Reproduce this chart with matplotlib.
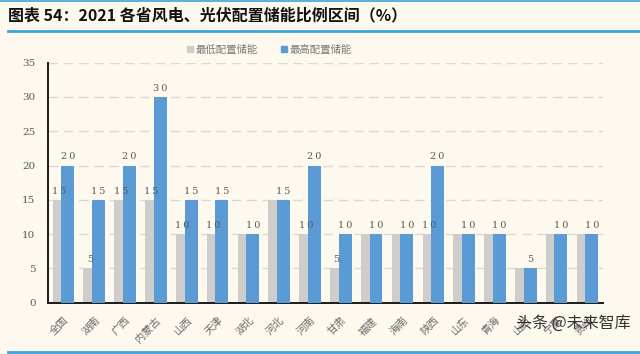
import matplotlib
matplotlib.use('Agg')
import matplotlib.pyplot as plt
from matplotlib.lines import Line2D
import numpy as np

plt.rcParams['font.family'] = ['Noto Sans CJK SC', 'DejaVu Sans']

# DATA
provinces = ['全国', '湖南', '广西', '内蒙古', '山西', '天津', '湖北', '河北', '河南',
             '甘肃', '福建', '海南', '陕西', '山东', '青海', '山西', '宁夏', '贵州']
low_storage = [15, 5, 15, 15, 10, 10, 10, 15, 10, 5, 10, 10, 10, 10, 10, 5, 10, 10]
high_storage = [20, 15, 20, 30, 15, 15, 10, 15, 20, 10, 10, 10, 20, 10, 10, 5, 10, 10]
yticks = [0, 5, 10, 15, 20, 25, 30, 35]

BG = '#fdf9ef'
GREY = '#cfcdcb'
BLUE = '#5b9bd5'
TXT = '#595959'

fig = plt.figure(figsize=(6.4, 3.54), dpi=100, facecolor=BG)
ax = fig.add_axes([0.075, 0.145, 0.867, 0.678])
ax.set_facecolor(BG)

x = np.arange(len(provinces))
w = 0.42
off = 0.14
ax.bar(x - off, low_storage, width=w, color=GREY, zorder=2)
ax.bar(x + off, high_storage, width=w, color=BLUE, zorder=3)

# value labels (low label hidden where both values coincide)
num_font = dict(family='DejaVu Serif', fontsize=7, color=TXT)
for i, (lo, hi) in enumerate(zip(low_storage, high_storage)):
    if lo != hi:
        ax.annotate('\u2009'.join(str(lo)), (x[i] - off, lo), xytext=(0, 3),
                    textcoords='offset points', ha='center', va='bottom', zorder=4, **num_font)
    ax.annotate('\u2009'.join(str(hi)), (x[i] + off, hi), xytext=(0, 3),
                textcoords='offset points', ha='center', va='bottom', zorder=4, **num_font)

ax.set_xlim(-0.5, len(provinces) - 0.5)
ax.set_ylim(0, 35)
ax.set_yticks(yticks)
ax.set_yticklabels([str(t) for t in yticks], family='DejaVu Serif', fontsize=7.5, color=TXT)
ax.set_xticks(x)
ax.set_xticklabels(provinces, rotation=45, ha='right', rotation_mode='anchor',
                   fontsize=7.5, color='#6a6a6a')
ax.tick_params(axis='y', length=0, pad=9)
ax.tick_params(axis='x', length=0, pad=9)

ax.grid(axis='y', color='#dcd9d3', linestyle=(0, (7, 4)), linewidth=1.0, zorder=0)
for s in ['top', 'right']:
    ax.spines[s].set_visible(False)
ax.spines['left'].set_color('#1a1a1a')
ax.spines['left'].set_linewidth(1.4)
ax.spines['bottom'].set_color('#1a1a1a')
ax.spines['bottom'].set_linewidth(1.4)

# legend
handles = [Line2D([], [], marker='s', linestyle='', color=GREY, markersize=4),
           Line2D([], [], marker='s', linestyle='', color=BLUE, markersize=4)]
fig.legend(handles, ['最低配置储能', '最高配置储能'], loc='center', bbox_to_anchor=(0.42, 0.86),
           ncol=2, frameon=False, fontsize=7.5, labelcolor='#7a7a7a', handletextpad=0.1,
           columnspacing=2.2, handlelength=0.8)

# title and decoration lines
fig.text(0.013, 0.957, '图表 54：2021 各省风电、光伏配置储能比例区间（%）', fontsize=11.5,
         fontweight='bold', style='italic', color='#111111', va='center', ha='left')
fig.add_artist(Line2D([0, 1], [0.997, 0.997], color='#3fa3dc', linewidth=1.2))
fig.add_artist(Line2D([0.012, 1], [0.913, 0.913], color='#3fa3dc', linewidth=2.0))
fig.add_artist(Line2D([0.012, 1], [0.006, 0.006], color='#3fa3dc', linewidth=2.0))

# watermark
fig.text(0.985, 0.088, '头条 @未来智库', fontsize=11.5, color='#333333', ha='right', va='center')

fig.savefig('out.png', dpi=100, facecolor=BG)
